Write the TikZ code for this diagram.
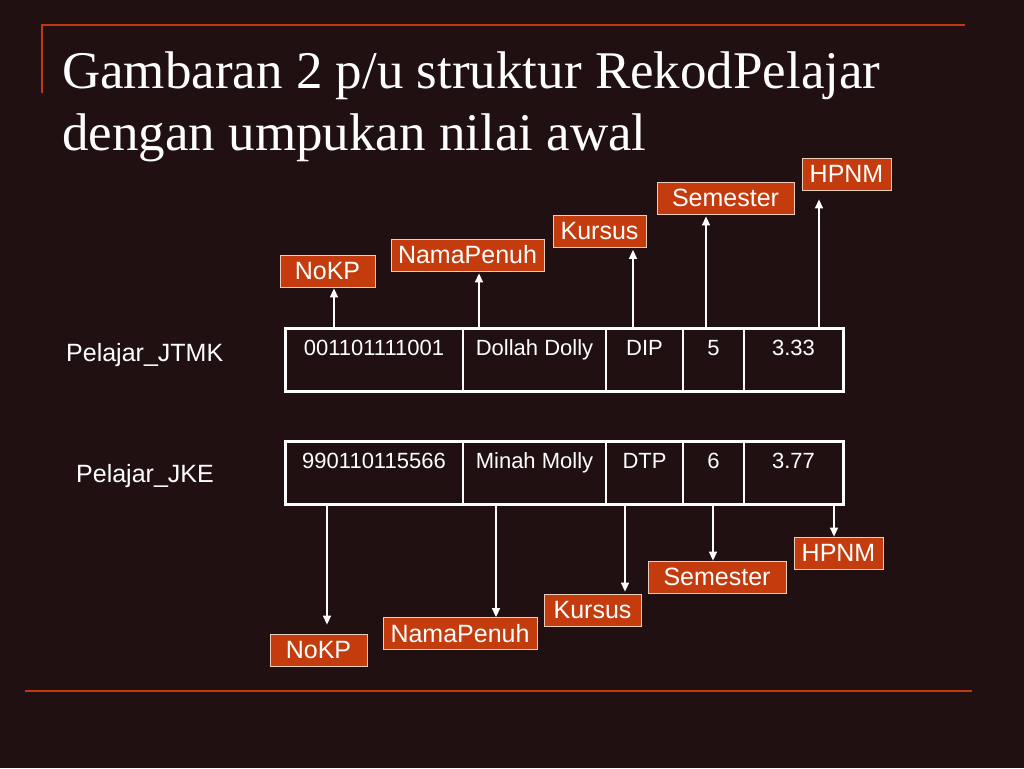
\documentclass[tikz,border=0pt]{standalone}
\usepackage{fontspec}
\setmainfont{Liberation Serif}
\setsansfont{Liberation Sans}
\usetikzlibrary{arrows.meta}
\definecolor{slidebg}{RGB}{33,16,18}
\definecolor{rustline}{RGB}{190,58,18}
\definecolor{rustbox}{RGB}{196,60,14}
\definecolor{boxedge}{RGB}{235,205,185}
\tikzset{
	fieldbox/.style={draw=boxedge, line width=0.8pt, fill=rustbox, text=white, inner sep=0pt, minimum height=32pt, font=\sffamily\fontsize{25}{25}\selectfont},
	celltext/.style={text=white, anchor=base, inner sep=0pt, font=\sffamily\fontsize{22}{22}\selectfont},
	rowname/.style={text=white, anchor=base west, inner sep=0pt, font=\sffamily\fontsize{25}{25}\selectfont},
	ptr/.style={white, line width=1.4pt, -{Triangle[length=9pt,width=8pt]}},
}

\begin{document}
\begin{tikzpicture}[x=1pt, y=-1pt]
			%%%%% START %%%%%
			\fill[slidebg] (0, 0) rectangle (1024, 768);
			\useasboundingbox (0, 0) rectangle (1024, 768);
			
			\draw[rustline, line width=2.5pt] (42, 93) -- (42, 25) -- (965, 25);
			\draw[rustline, line width=2.5pt] (25, 691) -- (972, 691);
			
			\node[anchor=base west, inner sep=0pt, text=white, font=\fontsize{53}{53}\selectfont] (title1) at (62, 88) {Gambaran 2 p/u struktur RekodPelajar};
			\node[anchor=base west, inner sep=0pt, text=white, font=\fontsize{53}{53}\selectfont] (title2) at (62, 150) {dengan umpukan nilai awal};
			
			%% rekod 1
			\node[rowname] (jtmk) at (66, 361) {Pelajar\_JTMK};
			\draw[white, line width=1.5pt] (463, 328) -- (463, 391) (606, 328) -- (606, 391) (683, 328) -- (683, 391) (744, 328) -- (744, 391);
			\draw[white, line width=3pt] (285, 328) rectangle (843, 391);
			\node[celltext] (kpA) at (374, 355) {001101111001};
			\node[celltext] (namaA) at (534.5, 355) {Dollah Dolly};
			\node[celltext] (kursusA) at (644.5, 355) {DIP};
			\node[celltext] (semA) at (713.5, 355) {5};
			\node[celltext] (hpnmA) at (793.5, 355) {3.33};
			
			\node[fieldbox, minimum width=95pt] (nokpUp) at (327.5, 271) {NoKP};
			\node[fieldbox, minimum width=153pt] (namaUp) at (467.5, 255) {NamaPenuh};
			\node[fieldbox, minimum width=93pt] (kursusUp) at (599.5, 231.5) {Kursus};
			\node[fieldbox, minimum width=137pt] (semUp) at (725.5, 198) {Semester};
			\node[fieldbox, minimum width=89pt] (hpnmUp) at (846.5, 174) {HPNM};
			
			\coordinate (upA) at (334, 328);
			\coordinate (upB) at (479, 328);
			\coordinate (upC) at (633, 328);
			\coordinate (upD) at (706, 328);
			\coordinate (upE) at (819, 328);
			\draw[ptr, shorten >=1pt] (upA) -- (upA |- nokpUp.south);
			\draw[ptr, shorten >=2pt] (upB) -- (upB |- namaUp.south);
			\draw[ptr, shorten >=2pt] (upC) -- (upC |- kursusUp.south);
			\draw[ptr, shorten >=2pt] (upD) -- (upD |- semUp.south);
			\draw[ptr, shorten >=9pt] (upE) -- (upE |- hpnmUp.south);
			
			%% rekod 2
			\node[rowname] (jke) at (76, 482) {Pelajar\_JKE};
			\draw[white, line width=1.5pt] (463, 441) -- (463, 504) (606, 441) -- (606, 504) (683, 441) -- (683, 504) (744, 441) -- (744, 504);
			\draw[white, line width=3pt] (285, 441) rectangle (843, 504);
			\node[celltext] (kpB) at (374, 468) {990110115566};
			\node[celltext] (namaB) at (534.5, 468) {Minah Molly};
			\node[celltext] (kursusB) at (644.5, 468) {DTP};
			\node[celltext] (semB) at (713.5, 468) {6};
			\node[celltext] (hpnmB) at (793.5, 468) {3.77};
			
			\node[fieldbox, minimum width=97pt] (nokpDn) at (318.5, 650) {NoKP};
			\node[fieldbox, minimum width=154pt] (namaDn) at (460, 633.5) {NamaPenuh};
			\node[fieldbox, minimum width=97pt] (kursusDn) at (592.5, 610) {Kursus};
			\node[fieldbox, minimum width=138pt] (semDn) at (717, 577) {Semester};
			\node[fieldbox, minimum width=89pt] (hpnmDn) at (838.5, 553) {HPNM};
			
			\coordinate (dnA) at (327, 504);
			\coordinate (dnB) at (496, 504);
			\coordinate (dnC) at (625, 504);
			\coordinate (dnD) at (713, 504);
			\coordinate (dnE) at (834, 504);
			\draw[ptr, shorten >=9pt] (dnA) -- (dnA |- nokpDn.north);
			\draw[ptr] (dnB) -- (dnB |- namaDn.north);
			\draw[ptr, shorten >=2pt] (dnC) -- (dnC |- kursusDn.north);
			\draw[ptr] (dnD) -- (dnD |- semDn.north);
			\draw[ptr] (dnE) -- (dnE |- hpnmDn.north);
			
			%%%%% END %%%%%
\end{tikzpicture}
\end{document}
